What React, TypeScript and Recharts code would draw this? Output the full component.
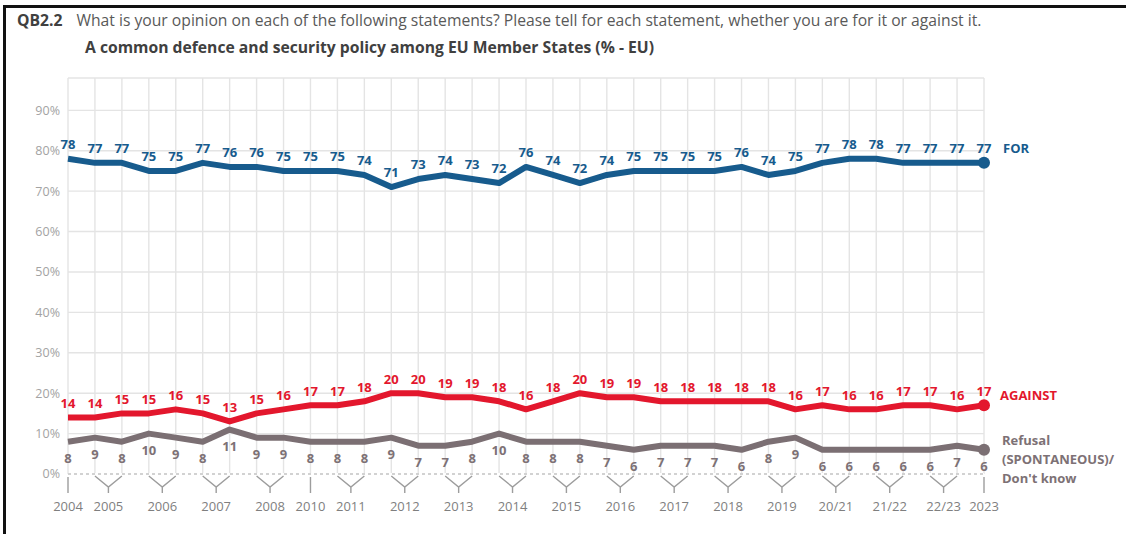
import { LineChart, Line, XAxis, YAxis, CartesianGrid, ReferenceLine, LabelList } from "recharts";

const FOR_VALUES = [78, 77, 77, 75, 75, 77, 76, 76, 75, 75, 75, 74, 71, 73, 74, 73, 72, 76, 74, 72, 74, 75, 75, 75, 75, 76, 74, 75, 77, 78, 78, 77, 77, 77, 77];
const AGAINST_VALUES = [14, 14, 15, 15, 16, 15, 13, 15, 16, 17, 17, 18, 20, 20, 19, 19, 18, 16, 18, 20, 19, 19, 18, 18, 18, 18, 18, 16, 17, 16, 16, 17, 17, 16, 17];
const DK_VALUES = [8, 9, 8, 10, 9, 8, 11, 9, 9, 8, 8, 8, 9, 7, 7, 8, 10, 8, 8, 8, 7, 6, 7, 7, 7, 6, 8, 9, 6, 6, 6, 6, 6, 7, 6];

const YEAR_LABELS = ["2004", "2005", "2006", "2007", "2008", "2010", "2011", "2012", "2013", "2014", "2015", "2016", "2017", "2018", "2019", "20/21", "21/22", "22/23", "2023"];
const YEAR_SPANS = [1, 2, 2, 2, 2, 1, 2, 2, 2, 2, 2, 2, 2, 2, 2, 2, 2, 2, 1];
const Y_TICKS = [0, 10, 20, 30, 40, 50, 60, 70, 80, 90];

const BLUE = "#175b8d";
const RED = "#e3172d";
const GREY = "#7b6f73";
const FONT = "'Open Sans', 'DejaVu Sans', sans-serif";

const W = 1126;
const H = 534;
const PLOT_LEFT = 68;
const PLOT_RIGHT = 984;
const LAST = FOR_VALUES.length - 1;
const STEP = (PLOT_RIGHT - PLOT_LEFT) / LAST;

const data = FOR_VALUES.map((v, i) => ({
  i,
  for: v,
  against: AGAINST_VALUES[i],
  dk: DK_VALUES[i],
}));

let cursor = 0;
const groups = YEAR_LABELS.map((label, k) => {
  const g = { label, start: cursor, span: YEAR_SPANS[k] };
  cursor += YEAR_SPANS[k];
  return g;
});

function YearTick(props: any) {
  const { x, y, payload } = props;
  const g = groups.find((gr) => gr.start === payload.value);
  if (!g) return null;
  const cx = g.span === 2 ? x + STEP / 2 : x;
  const path =
    g.span === 2
      ? `M${x},${y + 2} L${cx},${y + 13} L${x + STEP},${y + 2} M${cx},${y + 13} L${cx},${y + 19}`
      : `M${x},${y + 3} L${x},${y + 19}`;
  return (
    <g>
      <path d={path} stroke="#9d9d9d" strokeWidth={1.4} fill="none" />
      <text x={cx} y={y + 32} textAnchor="middle" dominantBaseline="central" fill="#7f7f7f" fontSize={13} fontFamily={FONT}>
        {g.label}
      </text>
    </g>
  );
}

function lastDot(color: string) {
  return (props: any) => {
    const { cx, cy, index } = props;
    if (index !== LAST) return <g key={index} />;
    return <circle key={index} cx={cx} cy={cy} r={6} fill={color} />;
  };
}

function valueLabel(color: string, dy: number, name?: string[], nameDx = 18, nameDy = -12) {
  return (props: any) => {
    const { x, y, value, index } = props;
    return (
      <g>
        <text x={x} y={y + dy} textAnchor="middle" dominantBaseline="central" fill={color} fontSize={13} fontWeight={700} fontFamily={FONT}>
          {value}
        </text>
        {index === LAST && name
          ? name.map((line, k) => (
              <text key={k} x={x + nameDx} y={y + nameDy + k * 19} dominantBaseline="central" fill={color} fontSize={13} fontWeight={700} fontFamily={FONT}>
                {line}
              </text>
            ))
          : null}
      </g>
    );
  };
}

export default function App() {
  return (
    <div style={{ position: "absolute", left: 0, top: 0, width: W, height: H, background: "#fff", fontFamily: FONT }}>
      <div style={{ position: "absolute", left: 3, top: 5, width: W - 3, height: 3, background: "#111" }} />
      <div style={{ position: "absolute", left: 3, top: 5, width: 3, height: H - 5, background: "#111" }} />
      <div style={{ position: "absolute", left: 17, top: 9, fontSize: 15.7, whiteSpace: "nowrap", color: "#595959" }}>
        <span style={{ fontWeight: 700, color: "#404040", marginRight: 14 }}>QB2.2</span>
        What is your opinion on each of the following statements? Please tell for each statement, whether you are for it or against it.
      </div>
      <div style={{ position: "absolute", left: 85, top: 36, fontSize: 15.7, fontWeight: 700, whiteSpace: "nowrap", color: "#404040" }}>
        A common defence and security policy among EU Member States (% - EU)
      </div>
      <LineChart width={W} height={H} data={data} margin={{ top: 78, right: W - PLOT_RIGHT, bottom: 0, left: 8 }}>
        <CartesianGrid stroke="#e4e4e4" strokeWidth={1.4} />
        <XAxis
          dataKey="i"
          type="category"
          interval={0}
          height={60}
          axisLine={false}
          tickLine={false}
          tickSize={0}
          tickMargin={0}
          tick={<YearTick />}
        />
        <YAxis
          width={60}
          domain={[0, 98]}
          ticks={Y_TICKS}
          tickFormatter={(v) => `${v}%`}
          axisLine={false}
          tickLine={false}
          tick={{ fill: "#a3a3a3", fontSize: 12.5, fontFamily: FONT }}
        />
        <ReferenceLine y={0} stroke="#ffffff" strokeWidth={2} />
        <ReferenceLine y={0} stroke="#c4c4c4" strokeWidth={1.4} strokeDasharray="3 3" />
        <Line dataKey="dk" stroke={GREY} strokeWidth={6} strokeLinejoin="round" dot={lastDot(GREY)} activeDot={false} isAnimationActive={false}>
          <LabelList dataKey="dk" content={valueLabel("#7d7175", 16, ["Refusal", "(SPONTANEOUS)/", "Don't know"], 18, -10)} />
        </Line>
        <Line dataKey="against" stroke={RED} strokeWidth={6} strokeLinejoin="round" dot={lastDot(RED)} activeDot={false} isAnimationActive={false}>
          <LabelList dataKey="against" content={valueLabel(RED, -14, ["AGAINST"], 16, -10)} />
        </Line>
        <Line dataKey="for" stroke={BLUE} strokeWidth={6} strokeLinejoin="round" dot={lastDot(BLUE)} activeDot={false} isAnimationActive={false}>
          <LabelList dataKey="for" content={valueLabel(BLUE, -15, ["FOR"], 19, -15)} />
        </Line>
      </LineChart>
    </div>
  );
}
